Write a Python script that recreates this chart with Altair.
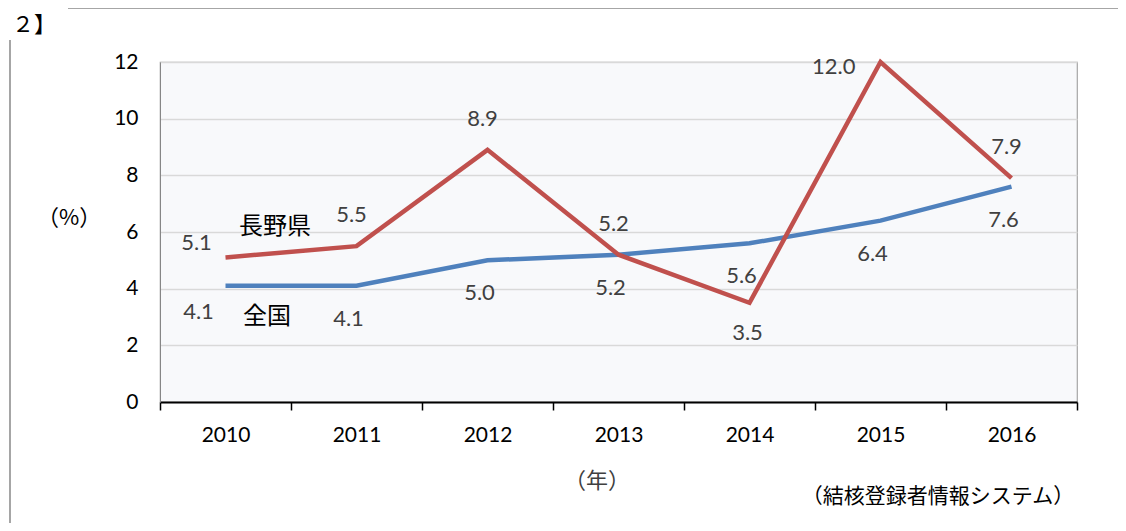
import altair as alt
import pandas as pd

years = ['2010', '2011', '2012', '2013', '2014', '2015', '2016']
nagano = [5.1, 5.5, 8.9, 5.2, 3.5, 12.0, 7.9]
zenkoku = [4.1, 4.1, 5.0, 5.2, 5.6, 6.4, 7.6]

source = pd.DataFrame({'year': years, 'nagano': nagano, 'zenkoku': zenkoku})

RED = '#C0504D'
BLUE = '#4F81BD'
NUM_FONT = 'Lato'
JP_FONT = 'Noto Sans CJK JP'

base = alt.Chart(source).encode(
    x=alt.X('year:O', title=None,
            scale=alt.Scale(type='band', paddingInner=0, paddingOuter=0),
            axis=alt.Axis(labelAngle=0, tickBand='extent', tickSize=8,
                          tickColor='black', tickWidth=1.5,
                          domainColor='black', domainWidth=2,
                          labelFontSize=21, labelColor='black',
                          labelFont=NUM_FONT, labelPadding=14, grid=False))
)

y_axis = alt.Axis(values=[0, 2, 4, 6, 8, 10, 12], ticks=False,
                  labelFontSize=21, labelColor='black', labelFont=NUM_FONT,
                  labelPadding=22, domainColor='#868686',
                  gridColor='#d9d9d9', gridWidth=1.5)
y_scale = alt.Scale(domain=[0, 12], nice=False)

blue_line = base.mark_line(color=BLUE, strokeWidth=4.5).encode(
    y=alt.Y('zenkoku:Q', title=None, scale=y_scale, axis=y_axis)
)
red_line = base.mark_line(color=RED, strokeWidth=4.5).encode(
    y=alt.Y('nagano:Q', title=None, scale=y_scale, axis=y_axis)
)

label_style = dict(fontSize=22, color='#404040', font=NUM_FONT)
red_text = alt.Text('nagano:Q', format='.1f')
blue_text = alt.Text('zenkoku:Q', format='.1f')
red_y = alt.Y('nagano:Q', scale=y_scale)
blue_y = alt.Y('zenkoku:Q', scale=y_scale)
first = "datum.year == '2010'"

red_up = base.mark_text(dx=-5, dy=-31, **label_style).encode(y=red_y, text=red_text).transform_filter(
    f"datum.nagano >= datum.zenkoku && datum.nagano < 12 && !({first})")
red_first = base.mark_text(dx=-29, dy=-15, **label_style).encode(y=red_y, text=red_text).transform_filter(first)
red_down = base.mark_text(dx=-2, dy=30, **label_style).encode(y=red_y, text=red_text).transform_filter(
    'datum.nagano < datum.zenkoku')
red_top = base.mark_text(dx=-25, dy=5, align='right', **label_style).encode(y=red_y, text=red_text).transform_filter(
    'datum.nagano >= 12')
blue_lab = base.mark_text(dx=-8, dy=33, **label_style).encode(y=blue_y, text=blue_text).transform_filter(f'!({first})')
blue_first = base.mark_text(dx=-27, dy=26, **label_style).encode(y=blue_y, text=blue_text).transform_filter(first)


def note(txt, x, y, size, color='black', align='center', font=JP_FONT):
    return alt.Chart(pd.DataFrame({'t': [txt]})).mark_text(
        fontSize=size, color=color, align=align, baseline='middle', font=font
    ).encode(x=alt.value(x), y=alt.value(y), text='t:N')


notes = [
    note('長野県', 115, 165, 24),
    note('全国', 107, 255, 24),
    note('（%）', -91, 156, 22),
    note('（年）', 437, 419, 22, color='#404040'),
    note('（結核登録者情報システム）', 778, 435, 21),
    note('２】', -148, -37, 22, align='left'),
]

top_rule = alt.Chart(source).mark_rule(color='#a6a6a6', strokeWidth=1.2).encode(
    x=alt.value(-92), x2=alt.value(966), y=alt.value(-54)
)
left_rule = alt.Chart(source).mark_rule(color='#a6a6a6', strokeWidth=1.2).encode(
    x=alt.value(-150), y=alt.value(-22), y2=alt.value(469)
)

chart = alt.layer(
    blue_line, red_line, red_up, red_first, red_down, red_top, blue_lab, blue_first,
    top_rule, left_rule, *notes
).properties(
    width=917, height=340,
    autosize=alt.AutoSizeParams(type='none'),
    padding={'left': 152, 'top': 54, 'right': 41, 'bottom': 121}
).configure_view(
    fill='#f8f9fb', stroke='#a6a6a6', strokeWidth=1.2
)

chart.save('out.html', embed_options={'renderer': 'svg', 'actions': False})
